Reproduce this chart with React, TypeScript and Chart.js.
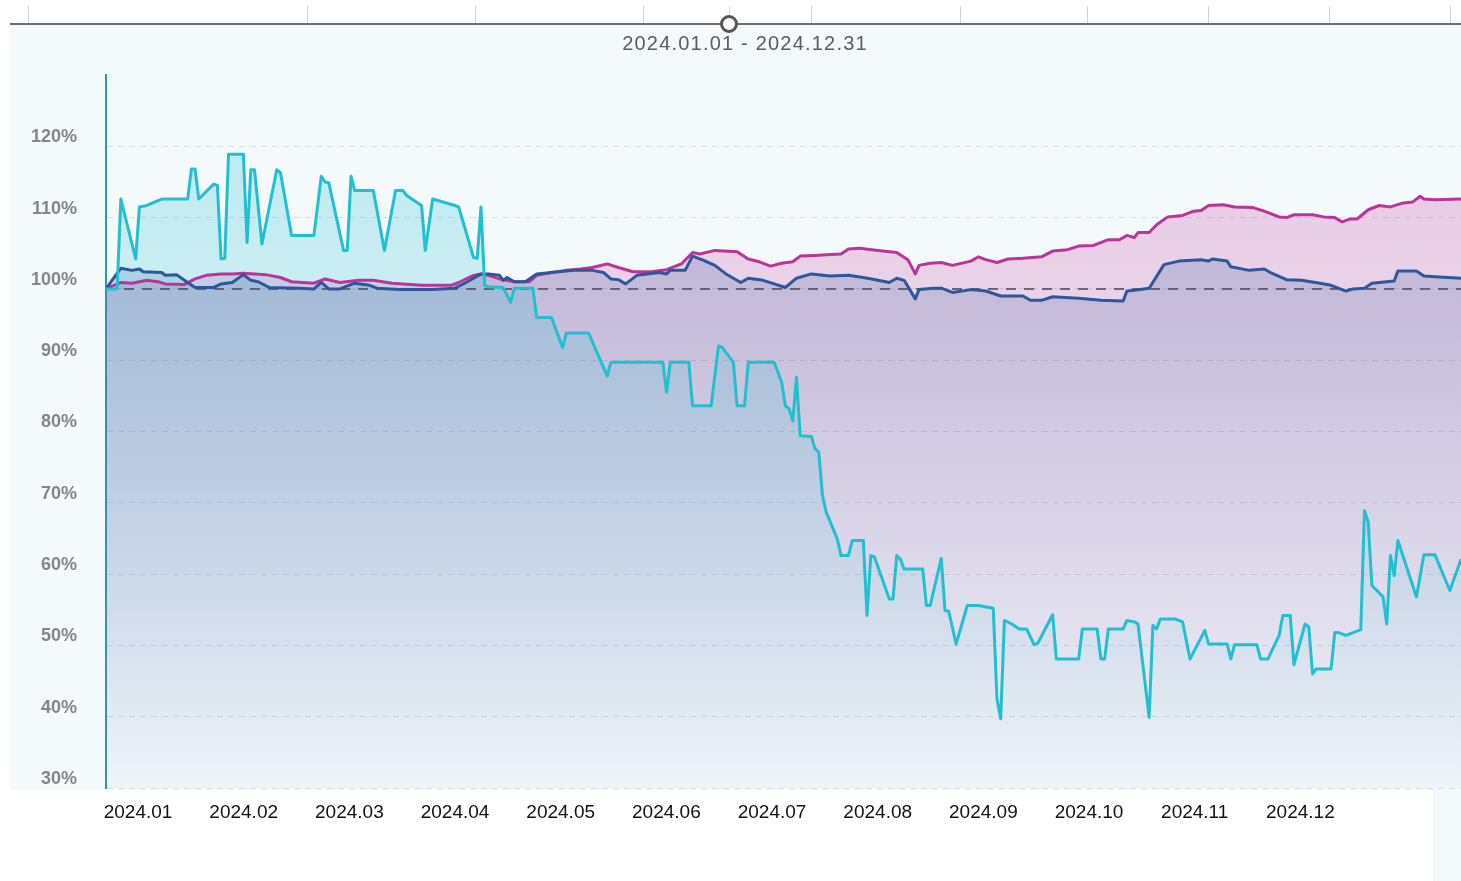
import React, { useEffect, useRef } from 'react';
import { Chart, registerables } from 'chart.js';

Chart.register(...registerables);

const titleText = '2024.01.01 - 2024.12.31';
const monthLabels = ['2024.01', '2024.02', '2024.03', '2024.04', '2024.05', '2024.06', '2024.07', '2024.08', '2024.09', '2024.10', '2024.11', '2024.12'];
const yTickValues = [30, 40, 50, 60, 70, 80, 90, 100, 110, 120];
const baselineValue = 100;

const cyanDays = [0,3,4,8,9,11,15,22,23,24,
  25,29,30,31,32,33,37,38,39,40,
  42,46,47,50,56,58,59,60,64,65,
  66,67,72,75,78,80,81,85,86,88,
  94,95,99,100,101,102,103,107,109,110,
  115,116,120,123,124,130,135,136,150,151,
  152,157,158,163,165,166,169,170,172,173,
  180,182,183,184,185,186,187,190,191,192,
  193,194,197,198,200,201,204,205,206,207,
  211,212,213,214,215,220,221,222,225,226,
  227,229,232,235,239,240,241,242,244,246,
  248,250,251,253,255,256,262,263,267,268,
  269,270,274,275,277,278,281,282,283,284,
  288,290,292,296,297,302,303,304,310,311,
  313,316,317,319,320,323,324,325,326,330,
  331,332,334,338,339,340,341,344,345,346,
  347,348,353,355,358,362,365];
const cyanValues = [100.0,100.0,112.6,104.2,111.5,111.7,112.6,112.6,116.8,116.8,
  112.6,114.7,114.5,104.2,104.3,118.9,118.9,106.5,116.7,116.7,
  106.3,116.7,116.3,107.5,107.5,115.8,115.0,114.9,105.4,105.4,
  115.8,113.8,113.8,105.4,113.8,113.8,113.1,111.7,105.4,112.6,
  111.7,111.5,104.4,104.3,111.5,100.5,100.3,100.2,98.1,100.1,
  100.1,96.0,96.0,91.8,93.8,93.8,87.8,89.7,89.7,85.5,
  89.7,89.7,83.6,83.6,92.0,91.8,89.7,83.6,83.6,89.7,
  89.7,86.9,83.6,83.2,81.5,87.6,79.4,79.3,77.6,77.1,
  71.0,68.7,64.9,62.6,62.6,64.7,64.7,54.2,62.6,62.4,
  56.5,56.5,62.6,62.1,60.7,60.7,55.6,55.6,62.2,54.9,
  54.8,50.2,55.6,55.6,55.2,42.5,39.7,53.5,53.0,52.3,
  52.3,50.1,50.3,52.3,54.3,48.1,48.1,52.3,52.3,48.1,
  48.1,52.3,52.3,53.5,53.3,53.0,39.9,52.8,52.3,53.7,
  53.7,53.3,48.1,52.1,50.2,50.2,48.1,50.1,50.1,48.1,
  48.1,51.4,54.2,54.2,47.3,53.0,52.6,46.0,46.7,46.7,
  51.8,51.8,51.4,52.2,68.9,67.3,58.4,56.8,53.0,62.6,
  59.8,64.7,56.8,62.7,62.7,57.7,62.1];

const navyDays = [0,4,7,9,10,15,16,19,22,24,29,31,34,37,39,41,44,52,56,58,60,63,67,71,73,79,88,94,97,101,103,106,107,108,110,113,116,120,126,131,134,136,138,140,143,149,151,152,156,158,161,164,167,171,173,177,180,183,186,190,195,200,204,208,211,213,215,218,219,223,225,228,233,237,241,247,249,252,255,262,268,274,275,277,281,285,289,295,297,298,302,303,308,312,314,318,322,327,330,334,336,339,341,347,348,353,355,358,365];
const navyValues = [100.0,102.9,102.6,102.8,102.4,102.3,101.9,102.0,100.9,100.2,100.2,100.7,100.9,102.0,101.2,101.0,100.2,100.1,100.0,100.9,100.0,100.0,100.8,100.5,100.1,99.9,99.9,100.1,100.9,102.1,102.1,101.9,101.2,101.6,101.0,101.0,102.1,102.3,102.6,102.6,102.3,101.4,101.3,100.7,101.9,102.3,102.1,102.6,102.6,104.6,104.0,103.3,102.1,100.9,101.5,101.2,100.7,100.2,101.5,102.1,101.8,101.9,101.6,101.2,100.9,101.5,101.2,98.6,99.9,100.1,100.1,99.5,99.9,99.7,99.0,99.0,98.4,98.4,98.9,98.7,98.4,98.3,99.7,99.8,100.1,103.4,103.9,104.1,103.9,104.2,103.9,103.1,102.6,102.8,102.2,101.3,101.2,100.8,100.5,99.7,100.0,100.1,100.8,101.1,102.5,102.5,101.8,101.7,101.5];

const magentaDays = [0,4,7,11,14,16,21,24,27,31,34,37,40,43,47,50,56,59,63,68,72,77,80,85,93,95,99,101,103,106,110,114,116,120,124,128,131,135,138,142,147,151,155,158,160,164,170,173,176,179,182,185,187,191,194,198,200,203,208,213,216,218,219,222,225,228,233,235,237,240,243,247,252,255,259,262,266,270,273,275,277,278,281,283,286,290,293,295,297,301,304,309,312,316,318,320,325,328,331,333,335,337,340,343,346,349,352,354,355,358,365];
const magentaValues = [100.0,100.9,100.8,101.2,101.0,100.7,100.6,101.4,101.9,102.1,102.1,102.2,102.1,102.0,101.6,101.0,100.8,101.4,100.9,101.2,101.2,100.8,100.7,100.5,100.5,100.9,101.9,102.1,101.9,101.4,101.0,101.0,101.9,102.3,102.6,102.8,103.0,103.5,103.0,102.4,102.4,102.7,103.5,105.1,104.9,105.4,105.2,104.2,103.8,103.2,103.6,103.8,104.6,104.7,104.8,104.9,105.6,105.7,105.4,105.1,104.1,102.1,103.3,103.6,103.7,103.3,103.9,104.5,104.1,103.7,104.2,104.3,104.5,105.3,105.5,106.0,106.1,106.9,106.9,107.5,107.2,107.9,107.9,109.0,110.1,110.3,110.9,111.0,111.7,111.8,111.5,111.4,110.9,110.1,110.0,110.4,110.4,110.1,110.0,109.4,109.8,109.8,111.1,111.7,111.5,112.0,112.2,113.0,112.6,112.5,112.6];

const sliderTicks = [28, 307, 475, 643, 729, 811, 960, 1087, 1208, 1329, 1450];
const PANEL = '#f4f9fc';
const FONT = '"Liberation Sans", Arial, Helvetica, sans-serif';

function toPoints(days: number[], values: number[]) {
  return days.map((d, i) => ({ x: d, y: values[i] }));
}

function gradientFill(rgb: string) {
  return (ctx: any) => {
    const chart = ctx.chart;
    const area = chart.chartArea;
    if (!area) return `rgba(${rgb},0.2)`;
    const g = chart.ctx.createLinearGradient(0, area.top, 0, area.bottom);
    g.addColorStop(0, `rgba(${rgb},0.28)`);
    g.addColorStop(1, `rgba(${rgb},0.01)`);
    return g;
  };
}

const decorPlugin = {
  id: 'decor',
  beforeDraw(chart: any) {
    const c = chart.ctx as CanvasRenderingContext2D;
    const W = chart.width;
    const H = chart.height;
    c.save();
    c.fillStyle = '#ffffff';
    c.fillRect(0, 0, W, H);
    c.fillStyle = PANEL;
    c.fillRect(10, 25, W - 10, 765);
    c.fillRect(1433, 790, W - 1433, H - 790);
    c.strokeStyle = '#d2d2d2';
    c.lineWidth = 1;
    for (const x of sliderTicks) {
      c.beginPath();
      c.moveTo(x + 0.5, 6);
      c.lineTo(x + 0.5, 24);
      c.stroke();
    }
    c.strokeStyle = '#6e6e6e';
    c.lineWidth = 2;
    c.beginPath();
    c.moveTo(10, 24);
    c.lineTo(W, 24);
    c.stroke();
    c.beginPath();
    c.arc(729, 24, 7.5, 0, Math.PI * 2);
    c.fillStyle = '#ffffff';
    c.fill();
    c.lineWidth = 3;
    c.strokeStyle = '#555555';
    c.stroke();
    c.font = `20px ${FONT}`;
    (c as any).letterSpacing = '1.2px';
    c.fillStyle = '#5c5c5c';
    c.textAlign = 'center';
    c.textBaseline = 'middle';
    c.fillText(titleText, 745, 44);
    c.restore();
  },
};

export default function App() {
  const ref = useRef<HTMLCanvasElement | null>(null);

  useEffect(() => {
    if (!ref.current) return;
    Chart.defaults.font.family = FONT;
    const chart = new Chart(ref.current, {
      type: 'line',
      data: {
        datasets: [
          {
            label: 'cyan',
            data: toPoints(cyanDays, cyanValues),
            borderColor: '#22bfd0',
            borderWidth: 3,
            backgroundColor: gradientFill('34,191,208'),
            fill: 'start',
            pointRadius: 0,
            tension: 0,
            borderJoinStyle: 'round',
            order: 1,
          },
          {
            label: 'navy',
            data: toPoints(navyDays, navyValues),
            borderColor: '#2d579a',
            borderWidth: 3,
            backgroundColor: gradientFill('47,90,156'),
            fill: 'start',
            pointRadius: 0,
            tension: 0,
            borderJoinStyle: 'round',
            order: 2,
          },
          {
            label: 'magenta',
            data: toPoints(magentaDays, magentaValues),
            borderColor: '#bb3598',
            borderWidth: 3,
            backgroundColor: gradientFill('192,55,154'),
            fill: 'start',
            pointRadius: 0,
            tension: 0,
            borderJoinStyle: 'round',
            order: 3,
          },
          {
            label: 'base',
            data: [{ x: 0, y: baselineValue }, { x: 365, y: baselineValue }],
            borderColor: 'rgba(90,82,100,0.85)',
            borderWidth: 2,
            borderDash: [10, 8],
            fill: false,
            pointRadius: 0,
            order: 4,
          },
        ],
      },
      options: {
        animation: false,
        responsive: false,
        devicePixelRatio: 1,
        layout: { padding: { top: 75, left: 10, right: 0, bottom: 0 } },
        plugins: {
          legend: { display: false },
          tooltip: { enabled: false },
          filler: { drawTime: 'beforeDatasetsDraw' },
        } as any,
        scales: {
          x: { type: 'linear', min: 0, max: 365, display: false },
          xm: {
            type: 'linear',
            position: 'bottom',
            min: -0.303,
            max: 12.52,
            afterBuildTicks: (s: any) => {
              s.ticks = monthLabels.map((_, i) => ({ value: i }));
            },
            afterFit: (s: any) => {
              s.height = 93;
            },
            grid: { display: false, drawTicks: false },
            border: { display: false },
            ticks: {
              autoSkip: false,
              maxRotation: 0,
              padding: 13,
              color: '#111111',
              font: { size: 19, family: FONT },
              callback: (v: any) => monthLabels[v] ?? '',
            },
          },
          y: {
            type: 'linear',
            min: 30,
            max: 130,
            afterBuildTicks: (s: any) => {
              s.ticks = yTickValues.map((v) => ({ value: v }));
            },
            afterFit: (s: any) => {
              s.width = 96;
            },
            grid: { color: 'rgba(185,198,210,0.55)', lineWidth: 1, drawTicks: false },
            border: { display: true, color: '#2b9aa9', width: 2, dash: [6, 5] },
            ticks: {
              padding: 29,
              labelOffset: -9,
              color: '#858585',
              font: { size: 18, weight: 'bold', family: FONT },
              callback: (v: any) => `${v}%`,
            },
          },
        } as any,
      },
      plugins: [decorPlugin],
    } as any);
    return () => chart.destroy();
  }, []);

  return (
    <div style={{ position: 'fixed', left: 0, top: 0, width: 1461, height: 881 }}>
      <canvas ref={ref} width={1461} height={881} style={{ display: 'block', width: 1461, height: 881 }} />
    </div>
  );
}
